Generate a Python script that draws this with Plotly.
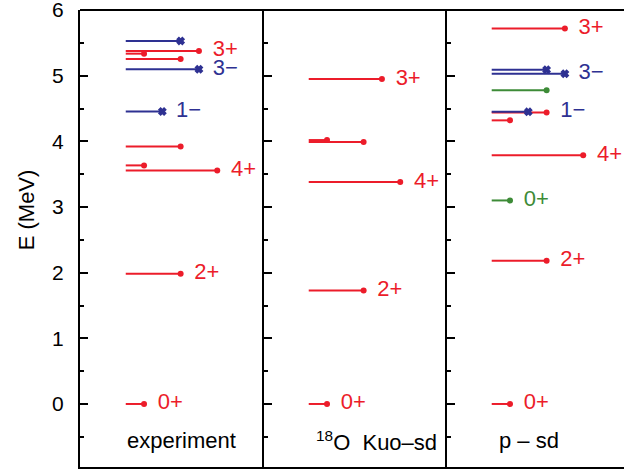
import plotly.graph_objects as go

# ---------------- data ----------------
panel_names = ["experiment", "<sup>18</sup>O  Kuo\u2013sd", "p \u2013 sd"]
panel_start = [0.25, 1.25, 2.25]

# experiment
exp_E = [0.0, 1.982, 3.555, 3.634, 3.920, 4.456, 5.098, 5.255, 5.336, 5.378, 5.530]
exp_J = [0, 2, 4, 0, 2, 1, 3, 2, 0, 3, 2]
exp_C = ["r", "r", "r", "r", "r", "b", "b", "r", "r", "r", "b"]
exp_lab = ["0+", "2+", "4+", "1\u2212", "3\u2212", "3+"]
exp_lab_E = [0.0, 1.982, 3.555, 4.456, 5.098, 5.378]
exp_lab_J = [0, 2, 4, 1, 3, 3]
exp_lab_C = ["r", "r", "r", "b", "b", "r"]

# Kuo-sd
kuo_E = [0.0, 1.73, 3.38, 4.02, 3.99, 4.95]
kuo_J = [0, 2, 4, 0, 2, 3]
kuo_C = ["r", "r", "r", "r", "r", "r"]
kuo_lab = ["0+", "2+", "4+", "3+"]
kuo_lab_E = [0.0, 1.73, 3.38, 4.95]
kuo_lab_J = [0, 2, 4, 3]
kuo_lab_C = ["r", "r", "r", "r"]

# p-sd
psd_E = [0.0, 2.18, 3.79, 4.32, 4.44, 5.72, 4.45, 5.03, 5.09, 3.10, 4.78]
psd_J = [0, 2, 4, 0, 2, 3, 1, 3, 2, 0, 2]
psd_C = ["r", "r", "r", "r", "r", "r", "b", "b", "b", "g", "g"]
psd_lab = ["0+", "2+", "0+", "4+", "1\u2212", "3\u2212", "3+"]
psd_lab_E = [0.0, 2.18, 3.10, 3.79, 4.45, 5.03, 5.72]
psd_lab_J = [0, 2, 0, 4, 2, 3, 3]
psd_lab_C = ["r", "r", "g", "r", "b", "b", "r"]

ytick_vals = [0, 1, 2, 3, 4, 5, 6]

panels = [
    (exp_E, exp_J, exp_C, exp_lab, exp_lab_E, exp_lab_J, exp_lab_C),
    (kuo_E, kuo_J, kuo_C, kuo_lab, kuo_lab_E, kuo_lab_J, kuo_lab_C),
    (psd_E, psd_J, psd_C, psd_lab, psd_lab_E, psd_lab_J, psd_lab_C),
]

colors = {"r": "#ec1c2a", "b": "#2e3192", "g": "#3d8b37"}
symbols = {"r": "circle", "b": "x", "g": "circle"}
msize = {"r": 6, "b": 6, "g": 6}

UNIT = 0.1       # line length per (J+1)
LAB_OFF = 0.075  # label offset after line end
XMAX = 2.973
YMIN, YMAX = -0.96, 6.0

fig = go.Figure()

for p, (E, J, C, lab, labE, labJ, labC) in enumerate(panels):
    x0 = panel_start[p]
    for c in ["r", "g", "b"]:
        xs, ys, mx, my = [], [], [], []
        for e, j, cc in zip(E, J, C):
            if cc != c:
                continue
            x1 = x0 + UNIT * (j + 1)
            xs += [x0, x1, None]
            ys += [e, e, None]
            mx.append(x1)
            my.append(e)
        if not mx:
            continue
        fig.add_trace(go.Scatter(x=xs, y=ys, mode="lines",
                                 line=dict(color=colors[c], width=2),
                                 hoverinfo="skip", showlegend=False))
        fig.add_trace(go.Scatter(x=mx, y=my, mode="markers",
                                 marker=dict(color=colors[c], symbol=symbols[c],
                                             size=msize[c],
                                             line=dict(width=1.5 if c == "b" else 0,
                                                       color=colors[c])),
                                 hoverinfo="skip", showlegend=False))
    for t, e, j, c in zip(lab, labE, labJ, labC):
        fig.add_trace(go.Scatter(x=[x0 + UNIT * (j + 1) + LAB_OFF], y=[e],
                                 mode="text", text=[t], textposition="middle right",
                                 textfont=dict(color=colors[c], size=22,
                                               family="Liberation Sans"),
                                 cliponaxis=True, hoverinfo="skip", showlegend=False))
    # panel name
    fig.add_annotation(x=[0.552, 1.62, 2.454][p], y=-0.56, text=panel_names[p],
                       showarrow=False, xanchor="center", yanchor="middle",
                       font=dict(size=22, color="black", family="Liberation Sans"))

axis_common = dict(range=[YMIN, YMAX + 0.001], tickvals=ytick_vals,
                   ticks="inside", ticklen=8, tickwidth=2, tickcolor="black",
                   showline=True, linewidth=2, linecolor="black",
                   showgrid=False, zeroline=False, automargin=False,
                   minor=dict(dtick=0.5, tick0=0, ticks="inside", ticklen=4,
                              tickwidth=2, tickcolor="black", showgrid=False))

fig.update_layout(
    width=624, height=471,
    margin=dict(l=80, r=0, t=10, b=4),
    plot_bgcolor="white", paper_bgcolor="white",
    font=dict(family="Liberation Sans", color="black"),
    xaxis=dict(range=[0, XMAX], showticklabels=False, ticks="", showgrid=False,
               zeroline=False, showline=True, linewidth=2, linecolor="black"),
    yaxis=dict(**axis_common, tickfont=dict(size=21), ticklabelstandoff=10,
               ticklabeloverflow="allow"),
    yaxis2=dict(**axis_common, overlaying="y", anchor="free",
                position=1 / XMAX, side="left", showticklabels=False),
    yaxis3=dict(**axis_common, overlaying="y", anchor="free",
                position=2 / XMAX, side="left", showticklabels=False),
)
# dummy traces to activate overlay axes
fig.add_trace(go.Scatter(x=[None], y=[None], yaxis="y2", showlegend=False))
fig.add_trace(go.Scatter(x=[None], y=[None], yaxis="y3", showlegend=False))

fig.add_shape(type="line", xref="paper", yref="paper", x0=0, x1=1, y0=1, y1=1,
              line=dict(color="black", width=2))

fig.add_annotation(xref="paper", yref="y", x=0, xshift=-54, y=2.95,
                   text="E (MeV)", textangle=-90, showarrow=False,
                   xanchor="center", yanchor="middle",
                   font=dict(size=22, color="black", family="Liberation Sans"))

fig.write_html("out.html")
